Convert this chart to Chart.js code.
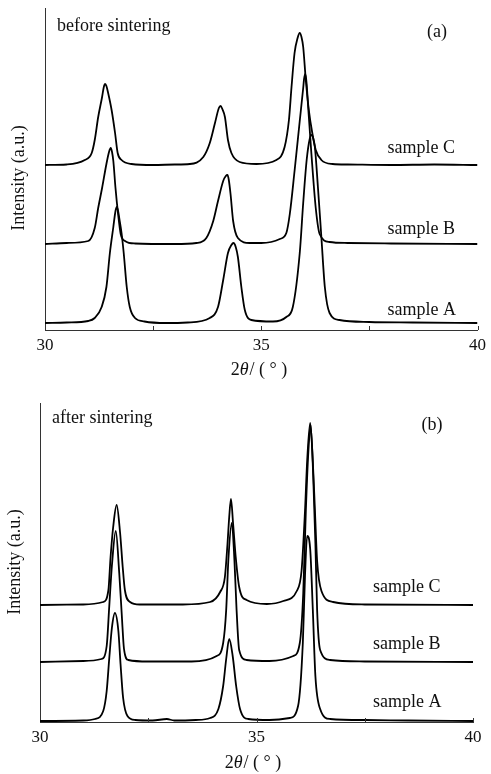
<!DOCTYPE html>
<html>
<head>
<meta charset="utf-8">
<script src="https://cdn.jsdelivr.net/npm/chart.js@4.4.1/dist/chart.umd.min.js"></script>
<style>
  html, body { margin: 0; padding: 0; background: #fff; }
  body { width: 491px; height: 774px; position: relative; overflow: hidden; }
  canvas { position: absolute; left: 0; }
  #chartA { top: 0; }
  #chartB { top: 390px; }
</style>
</head>
<body>
<canvas id="chartA" width="491" height="390"></canvas>
<canvas id="chartB" width="491" height="384"></canvas>
<script>
// 2theta (deg) and intensity (a.u.), each pattern relative to its own baseline
const sampleNames = ['sample A', 'sample B', 'sample C'];
const tickLabels = ['30', '35', '40'];

// (a) before sintering
const beforeA = [[30,0],[30.5,0.5],[31.0,2],[31.15,5],[31.31,16],[31.42,36],[31.5,70],[31.58,96],[31.63,112],[31.66,116],[31.69,112],[31.72,104],[31.77,90],[31.82,70],[31.89,36],[31.96,16],[32.08,5],[32.3,1.5],[32.8,0],[33.3,0.5],[33.81,5],[34.0,16],[34.12,43],[34.23,70],[34.31,78],[34.36,80],[34.41,76],[34.46,66],[34.54,36],[34.62,13],[34.77,3],[35.27,1.5],[35.58,6],[35.73,16],[35.89,70],[35.97,120],[36.05,163],[36.12,184],[36.16,188],[36.2,185],[36.24,176],[36.31,136],[36.39,86],[36.47,36],[36.58,10],[36.81,3],[37.5,1],[38.5,0.5],[40,0]];
const beforeB = [[30,0],[30.5,1],[31.0,3],[31.15,16],[31.23,36],[31.32,56],[31.42,80],[31.48,92],[31.52,96],[31.55,92],[31.58,83],[31.63,56],[31.69,30],[31.75,10],[31.85,3],[32.08,0.5],[33.0,0],[33.5,1],[33.73,6],[33.89,23],[34.0,43],[34.12,63],[34.18,68],[34.22,69],[34.25,64],[34.29,50],[34.35,23],[34.46,6],[34.73,1],[35.0,1],[35.43,5],[35.58,11],[35.66,30],[35.77,73],[35.89,123],[35.97,156],[35.99,165],[36.02,170],[36.05,160],[36.08,140],[36.16,90],[36.26,36],[36.35,10],[36.58,2],[37.0,1],[38.0,0.5],[40,0]];
const beforeC = [[30,0],[30.5,0.5],[30.92,5],[31.08,12],[31.15,25],[31.23,48],[31.32,68],[31.36,78],[31.39,81],[31.42,79],[31.46,72],[31.54,55],[31.62,32],[31.68,12],[31.77,5],[32.0,1],[32.5,0],[33.0,0.5],[33.35,1],[33.66,8],[33.81,22],[33.93,42],[34.02,57],[34.06,59],[34.1,56],[34.16,48],[34.23,25],[34.31,12],[34.5,3],[34.89,1],[35.35,5],[35.54,18],[35.64,45],[35.7,78],[35.77,112],[35.84,127],[35.89,132],[35.93,128],[35.97,118],[36.03,85],[36.1,55],[36.18,32],[36.26,15],[36.39,5],[36.65,1],[37.0,0.5],[38.0,0],[39.0,0.5],[40,0]];
const beforeOffsets = [7, 86, 165];

// (b) after sintering
const afterA = [[30,0],[31.0,0.5],[31.27,2],[31.46,10],[31.54,30],[31.6,63],[31.66,93],[31.73,108],[31.81,90],[31.86,57],[31.92,23],[32.02,5],[32.2,1],[32.6,0.5],[32.93,2],[33.1,0.5],[33.6,1],[33.93,3],[34.12,12],[34.23,35],[34.3,62],[34.37,82],[34.45,65],[34.53,35],[34.62,12],[34.81,2],[35.3,1],[35.77,3],[35.96,15],[36.07,78],[36.12,145],[36.17,185],[36.24,172],[36.3,112],[36.36,45],[36.47,12],[36.7,2],[37.5,1],[38.5,0.5],[40,0]];
const afterB = [[30,0],[31.0,1],[31.42,3],[31.54,16],[31.6,56],[31.66,96],[31.75,131],[31.83,89],[31.89,46],[31.94,13],[32.04,2],[32.5,0.5],[33.5,0.5],[34.08,6],[34.23,19],[34.3,52],[34.35,102],[34.43,139],[34.49,102],[34.54,52],[34.6,12],[34.77,2],[35.3,1],[35.85,6],[36.0,19],[36.08,69],[36.14,152],[36.2,212],[36.25,237],[36.31,186],[36.36,119],[36.4,52],[36.47,12],[36.7,2],[37.5,0.5],[40,0]];
const afterC = [[30,0],[31.0,0.5],[31.46,3],[31.58,15],[31.63,48],[31.69,78],[31.77,100],[31.85,72],[31.91,38],[31.96,15],[32.08,3],[32.3,0.5],[33.3,0.5],[33.93,3],[34.16,13],[34.27,28],[34.33,61],[34.37,88],[34.41,106],[34.46,81],[34.52,48],[34.6,18],[34.77,5],[35.24,1],[35.62,4],[35.93,14],[36.04,34],[36.12,94],[36.17,144],[36.24,182],[36.3,144],[36.35,94],[36.4,44],[36.5,14],[36.77,3],[37.5,0.5],[40,0]];
const afterOffsets = [1, 60, 117];

const SERIF = "'Liberation Serif', 'Times New Roman', serif";

function makePanel(id, profiles, offsets, g) {
  const textPlugin = {
    id: 'panelText',
    afterDraw(chart) {
      const ctx = chart.ctx;
      const xs = chart.scales.x, ys = chart.scales.y;
      const area = chart.chartArea;
      ctx.save();
      // inward tick marks
      ctx.strokeStyle = '#333';
      ctx.lineWidth = 1;
      xs.ticks.forEach(t => {
        const px = Math.round(xs.getPixelForValue(t.value)) + 0.5;
        if (px <= area.left + 2) return;
        ctx.beginPath();
        ctx.moveTo(px, area.bottom);
        ctx.lineTo(px, area.bottom - 4);
        ctx.stroke();
      });
      ctx.fillStyle = '#111';
      ctx.font = '18px ' + SERIF;
      ctx.textBaseline = 'alphabetic';
      ctx.textAlign = 'left';
      ctx.fillText(g.condition, g.condX, g.condY);
      ctx.textAlign = 'center';
      ctx.fillText(g.tag, g.tagX, g.tagY);
      // sample names above each baseline
      ctx.textAlign = 'left';
      sampleNames.forEach((name, i) => {
        ctx.fillText(name, xs.getPixelForValue(g.nameAt), ys.getPixelForValue(offsets[i]) - g.nameLift[i]);
      });
      // x title: 2θ / ( ° )
      const p1 = '2', p2 = '\u03B8', p3 = '/ ( \u00B0 )';
      ctx.font = '18px ' + SERIF;
      const w1 = ctx.measureText(p1).width, w3 = ctx.measureText(p3).width;
      ctx.font = 'italic 18px ' + SERIF;
      const w2 = ctx.measureText(p2).width;
      let x0 = g.xTitleX - (w1 + w2 + w3 + 1) / 2;
      ctx.textAlign = 'left';
      ctx.font = '18px ' + SERIF;
      ctx.fillText(p1, x0, g.xTitleY);
      ctx.font = 'italic 18px ' + SERIF;
      ctx.fillText(p2, x0 + w1, g.xTitleY);
      ctx.font = '18px ' + SERIF;
      ctx.fillText(p3, x0 + w1 + w2 + 1, g.xTitleY);
      // y title
      ctx.translate(g.yTitleX, g.yTitleY);
      ctx.rotate(-Math.PI / 2);
      ctx.textAlign = 'center';
      ctx.textBaseline = 'middle';
      ctx.fillText('Intensity (a.u.)', 0, 0);
      ctx.restore();
    }
  };

  return new Chart(document.getElementById(id), {
    type: 'line',
    data: {
      datasets: profiles.map((prof, i) => ({
        label: sampleNames[i],
        data: prof.map(p => ({ x: p[0], y: p[1] + offsets[i] })),
        borderColor: '#000',
        borderWidth: 1.8,
        pointRadius: 0,
        fill: false,
        cubicInterpolationMode: 'monotone'
      }))
    },
    options: {
      responsive: false,
      animation: false,
      devicePixelRatio: 1,
      layout: { padding: { left: g.left, right: g.right, top: g.top, bottom: 0 } },
      plugins: { legend: { display: false }, tooltip: { enabled: false } },
      scales: {
        x: {
          type: 'linear',
          min: 30, max: 40,
          afterFit(scale) { scale.height = g.axisH; },
          grid: { display: false, drawTicks: false },
          border: { display: true, color: '#333', width: 1 },
          ticks: {
            stepSize: 2.5,
            padding: g.tickPad,
            color: '#111',
            font: { family: SERIF, size: 17 },
            maxRotation: 0,
            autoSkip: false,
            callback: v => tickLabels.includes(String(v)) ? String(v) : ''
          }
        },
        y: {
          min: 0, max: g.yMax,
          afterFit(scale) { scale.width = 0; },
          grid: { display: false, drawTicks: false },
          border: { display: true, color: '#333', width: 1 },
          ticks: { display: false }
        }
      }
    },
    plugins: [textPlugin]
  });
}

makePanel('chartA', [beforeA, beforeB, beforeC], beforeOffsets, {
  left: 45, right: 13, top: 8, axisH: 60, yMax: 322, tickPad: 5,
  condition: 'before sintering', condX: 57, condY: 31,
  tag: '(a)', tagX: 437, tagY: 37,
  nameAt: 37.92, nameLift: [8, 10, 12],
  xTitleX: 259, xTitleY: 375,
  yTitleX: 19, yTitleY: 178
});

makePanel('chartB', [afterA, afterB, afterC], afterOffsets, {
  left: 40, right: 18, top: 13, axisH: 52, yMax: 319, tickPad: 5,
  condition: 'after sintering', condX: 52, condY: 33,
  tag: '(b)', tagX: 432, tagY: 40,
  nameAt: 37.69, nameLift: [14, 13, 13],
  xTitleX: 253, xTitleY: 378,
  yTitleX: 15, yTitleY: 172
});
</script>
</body>
</html>
